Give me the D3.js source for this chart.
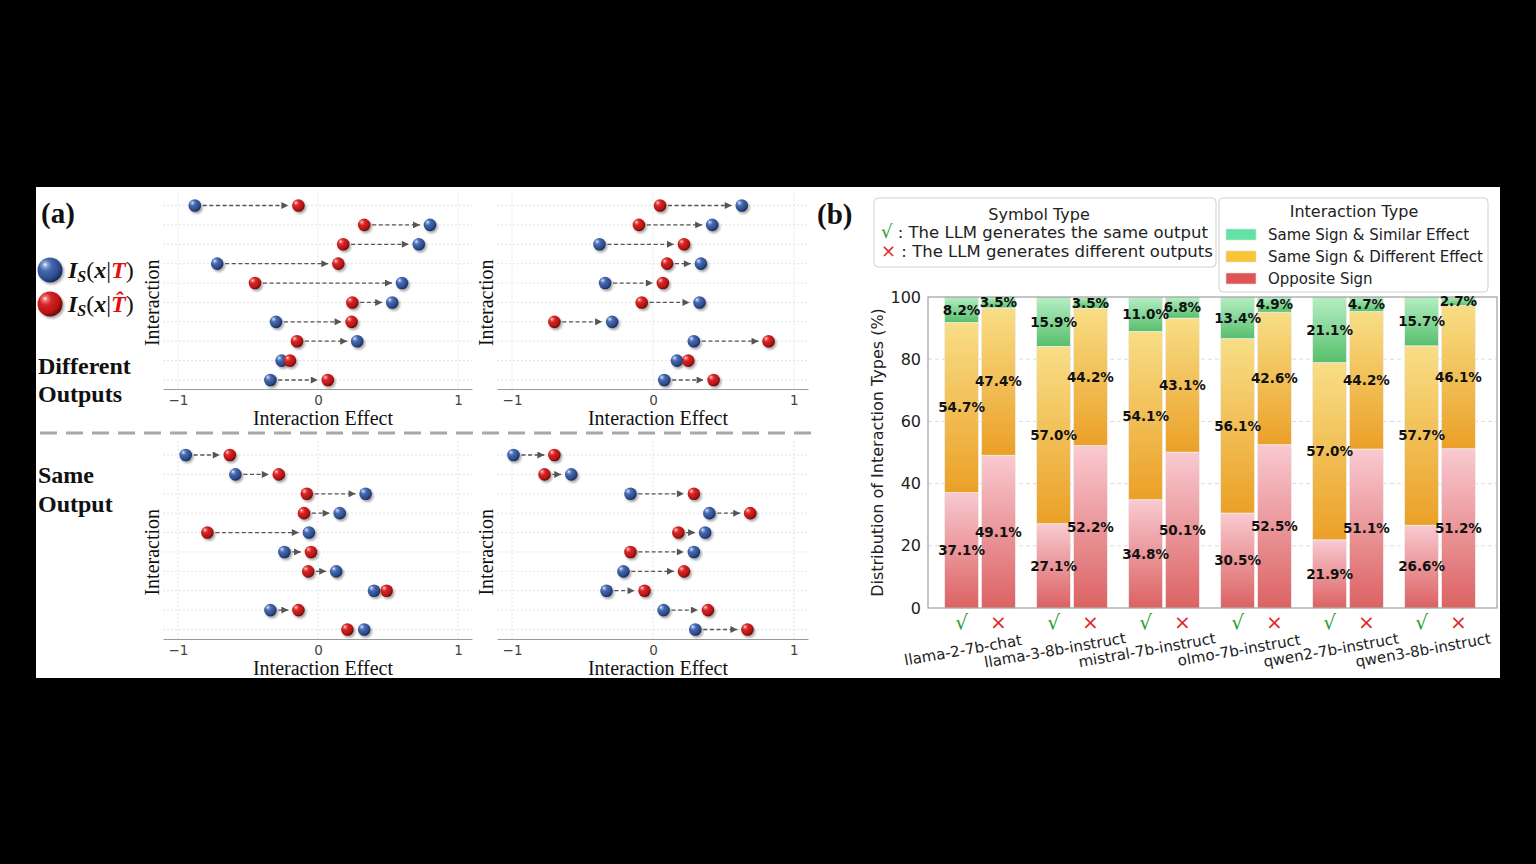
<!DOCTYPE html>
<html><head><meta charset="utf-8">
<script src="https://cdn.jsdelivr.net/npm/d3@7"></script>
<style>html,body{margin:0;padding:0;background:#000;overflow:hidden} svg{display:block}</style>
</head><body>
<svg id="c" width="1536" height="864"></svg>
<script>
// ---------- data: panel (a) ----------
const diffLeftBlue  = [-0.88, 0.80, 0.72, -0.72, 0.60, 0.53, -0.30, 0.28, -0.26, -0.34];
const diffLeftRed   = [-0.14, 0.33, 0.18, 0.145, -0.45, 0.245, 0.24, -0.15, -0.20, 0.07];
const diffRightBlue = [0.63, 0.42, -0.38, 0.34, -0.34, 0.33, -0.29, 0.29, 0.17, 0.08];
const diffRightRed  = [0.05, -0.10, 0.22, 0.10, 0.07, -0.08, -0.70, 0.82, 0.25, 0.43];
const sameLeftBlue  = [-0.945, -0.59, 0.34, 0.155, -0.065, -0.24, 0.13, 0.40, -0.34, 0.33];
const sameLeftRed   = [-0.63, -0.28, -0.08, -0.10, -0.79, -0.05, -0.07, 0.49, -0.14, 0.21];
const sameRightBlue = [-0.99, -0.58, -0.16, 0.40, 0.37, 0.29, -0.21, -0.33, 0.075, 0.30];
const sameRightRed  = [-0.70, -0.77, 0.29, 0.69, 0.18, -0.16, 0.22, -0.06, 0.39, 0.67];
const effectTicks = [-1, 0, 1];

// ---------- data: panel (b) ----------
const models = ["llama-2-7b-chat","llama-3-8b-instruct","mistral-7b-instruct","olmo-7b-instruct","qwen2-7b-instruct","qwen3-8b-instruct"];
const sameOpposite = [37.1, 27.1, 34.8, 30.5, 21.9, 26.6];
const sameDifferent = [54.7, 57.0, 54.1, 56.1, 57.0, 57.7];
const sameSimilar = [8.2, 15.9, 11.0, 13.4, 21.1, 15.7];
const diffOpposite = [49.1, 52.2, 50.1, 52.5, 51.1, 51.2];
const diffDifferent = [47.4, 44.2, 43.1, 42.6, 44.2, 46.1];
const diffSimilar = [3.5, 3.5, 6.8, 4.9, 4.7, 2.7];
const pctTicks = [0, 20, 40, 60, 80, 100];
const typeNames = ["Same Sign & Similar Effect","Same Sign & Different Effect","Opposite Sign"];

const svg = d3.select("#c");
const SERIF = "'Liberation Serif','DejaVu Serif',serif";
const SANS = "'DejaVu Sans',sans-serif";

svg.append("rect").attr("width",1536).attr("height",864).attr("fill","#000");
svg.append("rect").attr("x",36).attr("y",187).attr("width",1464).attr("height",491).attr("fill","#fff");

const defs = svg.append("defs");
function radial(id, stops){
  const g = defs.append("radialGradient").attr("id",id).attr("cx","36%").attr("cy","34%").attr("r","70%").attr("fx","30%").attr("fy","28%");
  stops.forEach(s=>g.append("stop").attr("offset",s[0]).attr("stop-color",s[1]));
}
radial("gBlue",[["0%","#f2f6ff"],["14%","#8aa6dc"],["35%","#4668ae"],["75%","#2d4c8e"],["100%","#152650"]]);
radial("gRed",[["0%","#fff0f0"],["14%","#f07070"],["35%","#d42525"],["75%","#b81414"],["100%","#5e0606"]]);
const sh = defs.append("filter").attr("id","shadow").attr("x","-50%").attr("y","-50%").attr("width","200%").attr("height","200%");
sh.append("feDropShadow").attr("dx",1.6).attr("dy",2).attr("stdDeviation",1.1).attr("flood-color","#000").attr("flood-opacity",0.35);
defs.append("marker").attr("id","arr").attr("viewBox","0 0 10 10").attr("refX",10).attr("refY",5)
  .attr("markerWidth",8).attr("markerHeight",7).attr("markerUnits","userSpaceOnUse").attr("orient","auto")
  .append("path").attr("d","M0,0 L10,5 L0,10 Z").attr("fill","#555");

function linear(id, top, bottom){
  const g = defs.append("linearGradient").attr("id",id).attr("x1",0).attr("y1",0).attr("x2",0).attr("y2",1);
  g.append("stop").attr("offset","0%").attr("stop-color",top);
  g.append("stop").attr("offset","100%").attr("stop-color",bottom);
}
linear("bGreen","#b4efc4","#58bf6c");
linear("bOrange","#f8de86","#eba027");
linear("bRed","#f9cad1","#dc6262");

// ---------- panel (a) ----------
function dumbbell(blue, red, xRange, yRange, axisY){
  const g = svg.append("g");
  const x = d3.scaleLinear().domain([-1.107, 1.1]).range(xRange);
  const y = d3.scaleLinear().domain([0, 9]).range(yRange);
  const rows = d3.range(blue.length);
  g.selectAll(".hg").data(rows).join("line")
    .attr("x1",xRange[0]).attr("x2",xRange[1]).attr("y1",d=>y(d)).attr("y2",d=>y(d))
    .attr("stroke","#e4e4e4").attr("stroke-width",1).attr("stroke-dasharray","2,2");
  g.selectAll(".vg").data(effectTicks).join("line")
    .attr("x1",d=>x(d)).attr("x2",d=>x(d)).attr("y1",yRange[0]-14).attr("y2",axisY)
    .attr("stroke","#e4e4e4").attr("stroke-width",1).attr("stroke-dasharray","2,2");
  const ax = g.append("g").attr("transform",`translate(0,${axisY})`)
    .call(d3.axisBottom(x).tickValues(effectTicks).tickSize(0).tickSizeOuter(0).tickPadding(6)
      .tickFormat(d => d < 0 ? "\u2212" + Math.abs(d) : d));
  ax.select(".domain").attr("stroke","#9a9a9a");
  ax.selectAll("text").attr("font-family",SANS).attr("font-size",13.5).attr("fill","#444");
  g.append("text").attr("x",x(0)+5).attr("y",axisY+36).attr("text-anchor","middle")
    .attr("font-family",SERIF).attr("font-size",20).attr("fill","#111").text("Interaction Effect");
  g.append("text").attr("transform",`translate(${xRange[0]-4},${(yRange[0]+yRange[1])/2+10}) rotate(-90)`)
    .attr("text-anchor","middle").attr("font-family",SERIF).attr("font-size",20).attr("fill","#111").text("Interaction");
  rows.forEach(i=>{
    const a = Math.min(x(blue[i]), x(red[i])), b = Math.max(x(blue[i]), x(red[i]));
    const s = a + 8, e = b - 10;
    if (e - s > 6) {
      g.append("line").attr("x1",s).attr("x2",e).attr("y1",y(i)).attr("y2",y(i))
        .attr("stroke","#555").attr("stroke-width",1.3).attr("stroke-dasharray","4,2.6")
        .attr("marker-end","url(#arr)");
    }
  });
  rows.forEach(i=>{
    [[blue[i],"gBlue"],[red[i],"gRed"]].forEach(p=>{
      g.append("circle").attr("cx",x(p[0])).attr("cy",y(i)).attr("r",6.3)
        .attr("fill",`url(#${p[1]})`).attr("filter","url(#shadow)");
    });
  });
}
dumbbell(diffLeftBlue, diffLeftRed, [163,472], [205.5,380], 389);
dumbbell(diffRightBlue, diffRightRed, [497,808], [205.5,380], 389);
dumbbell(sameLeftBlue, sameLeftRed, [163,472], [455,629.5], 639);
dumbbell(sameRightBlue, sameRightRed, [497,808], [455,629.5], 639);

svg.append("line").attr("x1",40).attr("x2",814).attr("y1",433).attr("y2",433)
  .attr("stroke","#a8a8a8").attr("stroke-width",3).attr("stroke-dasharray","17,9");

svg.append("text").attr("x",41).attr("y",223).attr("font-family",SERIF).attr("font-weight","bold").attr("font-size",29).attr("fill","#111").text("(a)");
[["gBlue",270,false],["gRed",304,true]].forEach(l=>{
  svg.append("circle").attr("cx",50).attr("cy",l[1]).attr("r",12.5).attr("fill",`url(#${l[0]})`).attr("filter","url(#shadow)");
  const t = svg.append("text").attr("x",68).attr("y",l[1]+8).attr("font-family",SERIF).attr("font-size",24).attr("fill","#111");
  t.append("tspan").attr("font-weight","bold").attr("font-style","italic").text("I");
  t.append("tspan").attr("font-weight","bold").attr("font-style","italic").attr("font-size",16).attr("dy",4).text("S");
  t.append("tspan").attr("dy",-4).text("(");
  t.append("tspan").attr("font-weight","bold").attr("font-style","italic").text("x");
  t.append("tspan").text("|");
  t.append("tspan").attr("font-weight","bold").attr("font-style","italic").attr("fill","#e01010").text(l[2] ? "T\u0302" : "T");
  t.append("tspan").text(")");
});
[["Different",374],["Outputs",402],["Same",483],["Output",512]].forEach(l=>{
  svg.append("text").attr("x",38).attr("y",l[1]).attr("font-family",SERIF).attr("font-weight","bold").attr("font-size",24).attr("fill","#111").text(l[0]);
});

// ---------- panel (b) ----------
const yB = d3.scaleLinear().domain([0,100]).range([608,297]);
const xB = d3.scaleLinear().domain([0,5]).range([980,1440]);
const frameL = 928, frameR = 1497;
const barOff = 0.2, barW = xB(0.37) - xB(0);

svg.append("text").attr("x",817).attr("y",224).attr("font-family",SERIF).attr("font-weight","bold").attr("font-size",29).attr("fill","#111").text("(b)");

const gb = svg.append("g");
gb.selectAll(".gl").data(pctTicks.filter(d=>d>0 && d<100)).join("line")
  .attr("x1",frameL).attr("x2",frameR).attr("y1",d=>yB(d)).attr("y2",d=>yB(d))
  .attr("stroke","#dcdcdc").attr("stroke-dasharray","4,3");
const barLayer = gb.append("g");
const labelLayer = gb.append("g");

const bars = [];
models.forEach((m,i)=>{
  bars.push({i, off:-barOff, segs:[sameOpposite[i], sameDifferent[i], sameSimilar[i]], sym:"\u221A", col:"#2a9d2a"});
  bars.push({i, off:barOff, segs:[diffOpposite[i], diffDifferent[i], diffSimilar[i]], sym:"\u00D7", col:"#e02828"});
});
const fills = ["url(#bRed)","url(#bOrange)","url(#bGreen)"];
bars.forEach(b=>{
  const cx = xB(b.i + b.off);
  let acc = 0;
  b.segs.forEach((v,k)=>{
    const y0 = acc, y1 = acc + v; acc = y1;
    barLayer.append("rect").attr("x",cx - barW/2).attr("width",barW)
      .attr("y",yB(y1)).attr("height",yB(y0)-yB(y1)).attr("fill",fills[k])
      .attr("stroke","#eeeeee").attr("stroke-width",0.8);
  });
  acc = 0;
  b.segs.forEach(v=>{
    const mid = acc + v/2; acc += v;
    labelLayer.append("text").attr("x",cx).attr("y",yB(mid)).attr("dy","0.36em").attr("text-anchor","middle")
      .attr("font-family",SANS).attr("font-weight","bold").attr("font-size",13.5).attr("fill","#111")
      .text(v.toFixed(1) + "%");
  });
  labelLayer.append("text").attr("x",cx).attr("y",622).attr("dy","0.36em").attr("text-anchor","middle")
    .attr("font-family",SANS).attr("font-size",20).attr("fill",b.col).text(b.sym);
});
barLayer.append("rect").attr("x",frameL).attr("y",yB(100)).attr("width",frameR-frameL).attr("height",yB(0)-yB(100))
  .attr("fill","none").attr("stroke","#8c8c8c").attr("stroke-width",1);
const ay = gb.append("g").attr("transform",`translate(${frameL},0)`)
  .call(d3.axisLeft(yB).tickValues(pctTicks).tickSize(0).tickPadding(7));
ay.select(".domain").remove();
ay.selectAll("text").attr("font-family",SANS).attr("font-size",16).attr("fill","#222");
gb.append("text").attr("transform",`translate(883,${(yB(0)+yB(100))/2}) rotate(-90)`).attr("text-anchor","middle")
  .attr("font-family",SANS).attr("font-size",16).attr("fill","#222").text("Distribution of Interaction Types (%)");
models.forEach((m,i)=>{
  gb.append("text").attr("transform",`translate(${xB(i)-17},${650}) rotate(-10)`).attr("text-anchor","middle").attr("dy","0.35em")
    .attr("font-family",SANS).attr("font-size",15).attr("fill","#222").text(m);
});

const l1 = svg.append("g");
l1.append("rect").attr("x",874).attr("y",198).attr("width",342).attr("height",69).attr("rx",4)
  .attr("fill","#fff").attr("fill-opacity",0.9).attr("stroke","#d0d0d0");
l1.append("text").attr("x",1039).attr("y",214).attr("dy","0.35em").attr("text-anchor","middle")
  .attr("font-family",SANS).attr("font-size",16).attr("fill","#222").text("Symbol Type");
[["\u221A","#2a9d2a"," : The LLM generates the same output",232],["\u00D7","#e02828"," : The LLM generates different outputs",251]].forEach(r=>{
  const t = l1.append("text").attr("x",881).attr("y",r[3]).attr("dy","0.35em").attr("font-family",SANS).attr("font-size",16.5).attr("fill","#222");
  t.append("tspan").attr("fill",r[1]).attr("font-size",18).text(r[0]);
  t.append("tspan").text(r[2]);
});
const l2 = svg.append("g");
l2.append("rect").attr("x",1219).attr("y",198).attr("width",269).attr("height",94).attr("rx",4)
  .attr("fill","#fff").attr("fill-opacity",0.9).attr("stroke","#d0d0d0");
l2.append("text").attr("x",1354).attr("y",211.5).attr("dy","0.35em").attr("text-anchor","middle")
  .attr("font-family",SANS).attr("font-size",16).attr("fill","#222").text("Interaction Type");
const swatch = ["#62e3a6","#f9c534","#e25454"];
typeNames.forEach((n,k)=>{
  const yy = 234.5 + k*22;
  l2.append("rect").attr("x",1226).attr("y",yy-5.5).attr("width",30).attr("height",11).attr("fill",swatch[k]).attr("stroke","#ddd").attr("stroke-width",0.6);
  l2.append("text").attr("x",1268).attr("y",yy).attr("dy","0.35em").attr("font-family",SANS).attr("font-size",15).attr("fill","#222").text(n);
});
</script>
</body></html>
